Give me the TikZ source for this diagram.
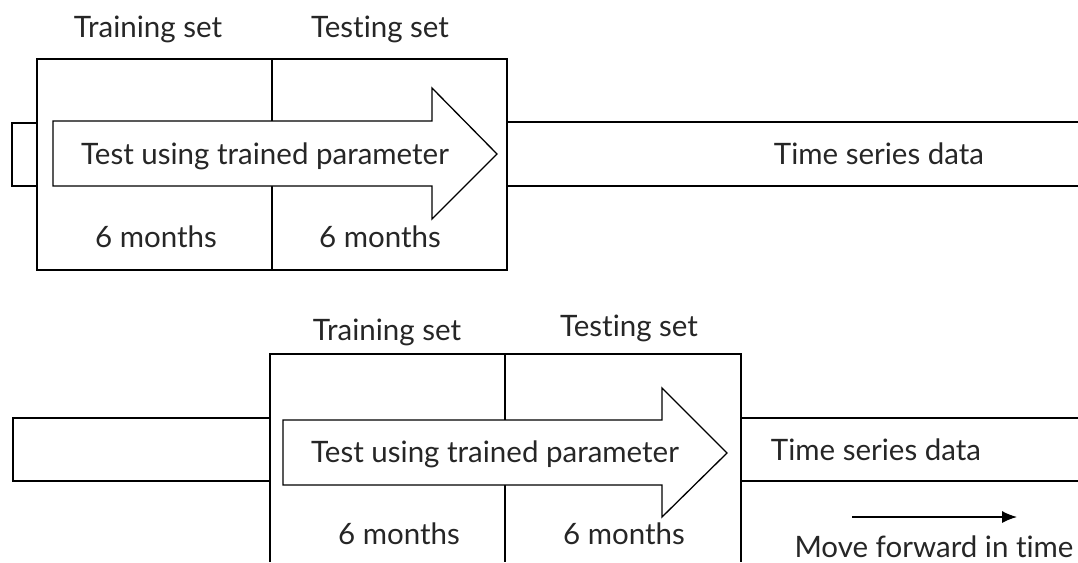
\documentclass[tikz,border=0pt]{standalone}
\usepackage{fontspec}
\setmainfont{Lato}[Ligatures={NoCommon}]
\usetikzlibrary{arrows.meta}
\begin{document}
\begin{tikzpicture}[x=1pt,y=-1pt,line join=miter,
  frame/.style={draw=black,line width=1.6pt},
  bigarrow/.style={draw=black,fill=white,line width=1.3pt},
  lbl/.style={font=\fontsize{29.5}{34}\selectfont,inner sep=0pt,text=black!85,anchor=base}]
\useasboundingbox (0,0) rectangle (1078,562);
% ---------- top panel ----------
\draw[frame] (12,123) rectangle (37,186);
\draw[frame] (37,59) rectangle (507,270);
\draw[frame] (272,59) -- (272,270);
\draw[frame] (507,122) -- (1078,122);
\draw[frame] (507,186) -- (1078,186);
\draw[bigarrow] (53,121) -- (432,121) -- (432,88) -- (497,154) -- (432,219) -- (432,186) -- (53,186) -- cycle;
\node[lbl] (tr1) at (148,37) {Training set};
\node[lbl] (te1) at (380,37) {Testing set};
\node[lbl] (ar1) at (265,164) {Test using trained parameter};
\node[lbl] (m1a) at (156,247) {6 months};
\node[lbl] (m1b) at (380,247) {6 months};
\node[lbl] (ts1) at (879,164) {Time series data};
% ---------- bottom panel ----------
\draw[frame] (13,418) rectangle (270,481);
\draw[frame] (270,562) -- (270,354) -- (741,354) -- (741,562);
\draw[frame] (505,354) -- (505,562);
\draw[frame] (741,418) -- (1078,418);
\draw[frame] (741,481) -- (1078,481);
\draw[bigarrow] (283,420) -- (662,420) -- (662,388) -- (727,453) -- (662,517) -- (662,485) -- (283,485) -- cycle;
\node[lbl] (tr2) at (387,340) {Training set};
\node[lbl] (te2) at (629,336) {Testing set};
\node[lbl] (ar2) at (495,462) {Test using trained parameter};
\node[lbl] (m2a) at (399,544) {6 months};
\node[lbl] (m2b) at (624,544) {6 months};
\node[lbl] (ts2) at (876,460) {Time series data};
\node[lbl] (mv) at (934,557) {Move forward in time};
\coordinate (mvs) at (852,517);
\coordinate (mve) at (1017,517);
\draw[line width=1.3pt,-{Latex[length=15pt,width=12pt]}] (mvs) -- (mve);
\end{tikzpicture}
\end{document}
